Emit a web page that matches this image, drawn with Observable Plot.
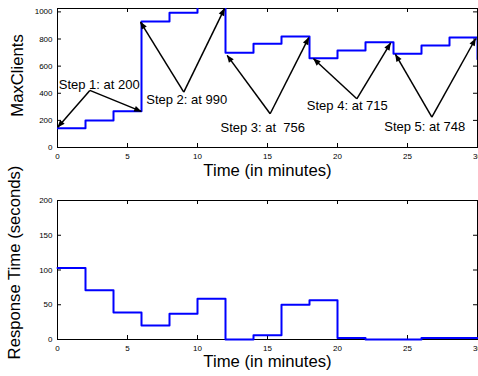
<!DOCTYPE html>
<html>
<head>
<meta charset="utf-8">
<script src="https://cdn.jsdelivr.net/npm/d3@7"></script>
<script src="https://cdn.jsdelivr.net/npm/@observablehq/plot@0.6"></script>
<style>
  html, body { margin: 0; padding: 0; background: white; }
  #chart svg { display: block; overflow: visible; }
  #chart svg text { white-space: pre; }
</style>
</head>
<body>
<div id="chart"></div>
<script>
// ---- data ----
const time = [0, 2, 4, 6, 8, 10, 12, 14, 16, 18, 20, 22, 24, 26, 28, 30];
const maxClients = [142, 199, 268, 930, 994, 1100, 699, 765, 819, 659, 716, 777, 692, 753, 812, 650];
const responseTime = [103, 71, 39, 20, 37, 58.5, 0, 6, 50, 56.5, 2, 0, 0, 2, 2, 2];

const xTicks = [0, 5, 10, 15, 20, 25, 30];
const yTicksTop = [0, 200, 400, 600, 800, 1000];
const yTicksBottom = [0, 50, 100, 150, 200];

const stepLabels = ["Step 1: at 200", "Step 2: at 990", "Step 3: at  756", "Step 4: at 715", "Step 5: at 748"];
const stepLabelX = [0.09, 6.34, 11.64, 17.81, 23.34];
const stepLabelY = [428, 322, 113, 273, 120];

const arrowFromX = [2.31, 2.31, 9.02, 9.02, 15.19, 15.19, 21.38, 21.38, 26.74, 26.74];
const arrowFromY = [421, 421, 408, 408, 249, 249, 359, 359, 224, 224];
const arrowToX = [0.02, 5.98, 5.93, 11.93, 12.12, 17.95, 18.29, 23.79, 24.14, 29.86];
const arrowToY = [150, 266, 925, 1024, 679, 810, 655, 770, 686, 802];

const xLabel = "Time (in minutes)";
const yLabelTop = "MaxClients";
const yLabelBottom = "Response Time (seconds)";

// ---- tables ----
const topData = time.map((t, i) => ({t, v: maxClients[i]}));
const bottomData = time.map((t, i) => ({t, v: responseTime[i]}));
const steps = stepLabels.map((s, i) => ({s, x: stepLabelX[i], y: stepLabelY[i]}));
const arrows = arrowFromX.map((x1, i) => ({x1, y1: arrowFromY[i], x2: arrowToX[i], y2: arrowToY[i]}));

const W = 478;
const FONT = "'Liberation Sans', Arial, Helvetica, sans-serif";
const BLUE = "#0000ff";
const TICK = 4;
const fmt = d => String(d);

function ticksMarks(xT, yT, innerW, innerH) {
  return [
    Plot.ruleX(xT, {x: d => d, insetTop: innerH - TICK, stroke: "black"}),
    Plot.ruleX(xT, {x: d => d, insetBottom: innerH - TICK, stroke: "black"}),
    Plot.ruleY(yT, {y: d => d, insetRight: innerW - TICK, stroke: "black"}),
    Plot.ruleY(yT, {y: d => d, insetLeft: innerW - TICK, stroke: "black"})
  ];
}

// ---- top chart ----
const mTop = {top: 8, right: 1, bottom: 33, left: 57};
const H1 = 180;
const topChart = Plot.plot({
  width: W, height: H1,
  marginTop: mTop.top, marginRight: mTop.right, marginBottom: mTop.bottom, marginLeft: mTop.left,
  style: {fontFamily: FONT, fontSize: "8px", color: "black", background: "white"},
  x: {domain: [0, 30], ticks: xTicks, tickFormat: fmt, tickSize: 0, tickPadding: 5.5, label: null},
  y: {domain: [0, 1025], ticks: yTicksTop, tickFormat: fmt, tickSize: 0, tickPadding: 5, label: null},
  marks: [
    Plot.frame({stroke: "black"}),
    ...ticksMarks(xTicks, yTicksTop, W - mTop.left - mTop.right, H1 - mTop.top - mTop.bottom),
    Plot.line(topData, {x: "t", y: "v", curve: "step-after", stroke: BLUE, strokeWidth: 2, clip: true}),
    Plot.link(arrows, {x1: "x1", y1: "y1", x2: "x2", y2: "y2", stroke: "black", strokeWidth: 1.5, markerEnd: "arrow"}),
    Plot.text(steps, {x: "x", y: "y", text: "s", textAnchor: "start", lineAnchor: "bottom", fontSize: 13, fill: "black"}),
    Plot.text([xLabel], {frameAnchor: "bottom", text: d => d, textAnchor: "middle", lineAnchor: "bottom", dy: 28, fontSize: 16.7, fill: "black"}),
    Plot.text([yLabelTop], {frameAnchor: "left", text: d => d, textAnchor: "middle", rotate: -90, dx: -39.6, dy: -2.5, fontSize: 16.7, fill: "black"})
  ]
});

// ---- bottom chart ----
const mBot = {top: 20, right: 1, bottom: 37, left: 57};
const H2 = 196;
const bottomChart = Plot.plot({
  width: W, height: H2,
  marginTop: mBot.top, marginRight: mBot.right, marginBottom: mBot.bottom, marginLeft: mBot.left,
  style: {fontFamily: FONT, fontSize: "8px", color: "black", background: "white"},
  x: {domain: [0, 30], ticks: xTicks, tickFormat: fmt, tickSize: 0, tickPadding: 6, label: null},
  y: {domain: [0, 200], ticks: yTicksBottom, tickFormat: fmt, tickSize: 0, tickPadding: 5, label: null},
  marks: [
    Plot.frame({stroke: "black"}),
    ...ticksMarks(xTicks, yTicksBottom, W - mBot.left - mBot.right, H2 - mBot.top - mBot.bottom),
    Plot.line(bottomData, {x: "t", y: "v", curve: "step-after", stroke: BLUE, strokeWidth: 2}),
    Plot.text([xLabel], {frameAnchor: "bottom", text: d => d, textAnchor: "middle", lineAnchor: "bottom", dy: 27, fontSize: 16.7, fill: "black"}),
    Plot.text([yLabelBottom], {frameAnchor: "left", text: d => d, textAnchor: "middle", rotate: -90, dx: -43, dy: -7.5, fontSize: 16.7, fill: "black"})
  ]
});

const host = document.getElementById("chart");
host.appendChild(topChart);
host.appendChild(bottomChart);

// filled arrowheads
d3.select(topChart).selectAll("marker")
  .attr("fill", "black").attr("stroke", "none").attr("overflow", "visible")
  .selectAll("path").attr("d", "M-7,-3L0.6,0L-7,3Z");
</script>
</body>
</html>
